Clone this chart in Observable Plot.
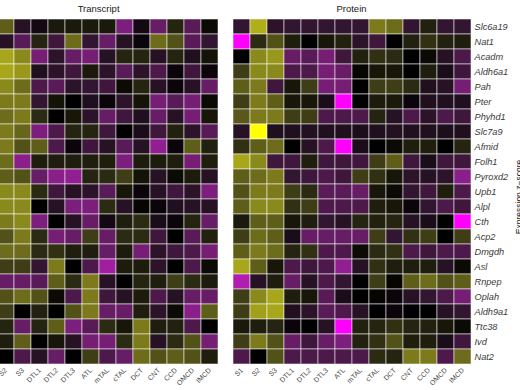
<!DOCTYPE html>
<html><head><meta charset="utf-8">
<script src="https://cdn.jsdelivr.net/npm/d3@7"></script>
<script src="https://cdn.jsdelivr.net/npm/@observablehq/plot@0.6"></script>
<style>
html,body{margin:0;padding:0;background:#fff;}
#wrap{position:relative;width:520px;height:390px;overflow:hidden;font-family:"Liberation Sans",Arial,sans-serif;}
#wrap svg{position:absolute;top:0;background:transparent;}
.ptitle{position:absolute;top:3px;font-size:9.5px;line-height:12px;color:#1a1a1a;transform:translateX(-50%);white-space:nowrap;}
#right [aria-label="y-axis tick label"] text{font-style:italic;}
#legtitle{position:absolute;left:519px;top:197px;font-size:8.5px;line-height:10px;color:#1a1a1a;white-space:nowrap;transform:translate(-50%,-50%) rotate(-90deg);}
</style></head>
<body><div id="wrap"></div>
<script>
const regions = ["S1","S2","S3","DTL1","DTL2","DTL3","ATL","mTAL","cTAL","DCT","CNT","CCD","OMCD","IMCD"];
const genes = ["Slc6a19","Nat1","Acadm","Aldh6a1","Pah","Pter","Phyhd1","Slc7a9","Afmid","Folh1","Pyroxd2","Upb1","Alpl","Cth","Acp2","Dmgdh","Asl","Rnpep","Oplah","Aldh9a1","Ttc38","Ivd","Nat2"];
const panelTitles = ["Transcript","Protein"];
const legendTitle = "Expression z\u2212score";

const transcriptZ = [
 [1.6, 1.4, -0.5, -0.2, 0.3, 0.3, 0.3, 0.3, -1.8, -0.2, -1.5, 0.5, -1.3, 0.1],
 [-0.3, -0.5, -1.3, 0.5, -0.9, 1.6, -0.7, -1.5, -0.5, -0.1, 1.6, 1.2, -1.3, -0.7],
 [2.2, 2.4, 2.0, -1.7, -0.6, -1.5, -1.7, -0.5, 0.5, 0.5, -0.5, 0.5, -0.4, 0.2],
 [2.3, 2.4, 2.2, -0.4, -0.6, -0.9, 0.3, -0.6, -1.3, -0.6, -1.1, -0.1, -0.9, -0.1],
 [2.1, 2.0, 1.6, -1.1, -1.3, -0.6, -0.7, -0.9, 0.1, 0.5, -0.5, -0.1, -0.5, -1.5],
 [1.7, 1.8, 1.8, -0.7, 0.2, 0, -0.4, -0.1, -0.6, 0.2, -1.7, -1.3, -1.7, 0.1],
 [1.7, 1.6, 1.8, 0.6, 0, 0.25, -0.6, -1.5, -0.9, -0.4, -1.5, -0.5, -1.7, 0.25],
 [1.9, 1.8, 1.5, -1.8, -1.1, 0.5, 0.5, -0.9, 0, -0.3, -0.9, 0.45, -0.6, -1.3],
 [1.6, 1.8, 1.2, 1.4, -1.1, -0.1, -0.9, -0.5, -1.3, -0.5, -2.1, -0.1, 1.4, 0.45],
 [1.5, 1.6, -2.0, 0.4, 0.4, 0.4, 0.4, 0.4, -1.8, 0.35, 0.35, 0.4, -1.7, 0.4],
 [1.3, 1.4, 1.2, -1.5, -2.0, -2.1, 0.5, 0.6, 0.9, 0.2, -0.5, 0.1, 0.35, -0.5],
 [2.0, 2.0, 2.0, 0.6, -0.9, -0.5, -0.6, -1.3, 0.25, -0.1, -0.5, -0.9, -0.6, -1.8],
 [2.1, 2.0, 2.0, 0, -0.5, -1.8, -1.8, 0.6, -0.5, 0.05, -0.1, -0.4, -0.5, -0.5],
 [1.9, 1.8, 2.0, -1.8, 0, -0.5, -1.5, -0.2, 0.4, 0.6, -0.3, -0.1, 0.5, -1.5],
 [1.4, 1.2, 1.8, 0.6, -1.7, -1.5, 0.9, -1.5, 0.6, 0.6, -0.9, 0, -1.3, 0.45],
 [1.5, 1.6, 1.6, 0.6, 0.7, 0.4, 0.4, -1.5, 0.35, -1.7, -0.6, -0.9, -1.1, -1.7],
 [1.0, 0.9, 0.9, -0.7, 1.8, 0, -1.1, -2.3, 0.35, 0.35, -0.6, 0, -1.1, 0.1],
 [-1.4, -1.5, -1.5, -1.3, 1.4, 0.6, 1.8, -0.5, 0, 0.5, 0.4, 0.9, 0.6, 0.35],
 [1.3, 1.2, 1.6, 1.2, 0.1, -1.1, 1.8, -0.9, -0.5, 0.35, -1.1, -0.5, -1.5, -1.5],
 [1.0, 0.9, 0, 0.45, 0, 1.2, 1.8, -1.5, -1.5, 0.4, -0.6, 0.1, -2.0, 1.4],
 [0.6, 0.5, -1.5, 0.5, 1.4, -1.8, -1.3, 0.6, 0.25, 1.8, 0.4, 0.45, -1.1, 0],
 [0.5, 0.4, 1.4, 0, 0.25, -0.5, -1.7, -1.7, 0.6, 1.8, -0.5, 0.6, 1.2, -1.7],
 [0.2, 0, -1.1, -0.5, -1.5, 0, 0.9, -1.1, -1.5, 1.6, 1.2, 1.4, 1.2, 0.4]
];

const proteinZ = [
 [-0.7, 2.5, -0.6, -0.7, -0.7, -0.7, -0.7, -0.7, 1.8, 1.6, -0.7, 0.45, -0.7, -0.7],
 [-3.5, 0.6, 1.2, 0.4, 0, 0.25, 0.45, -0.6, -0.9, 0, 0.45, 0.7, 0.45, 0.4],
 [0, 2.0, 2.2, -1.5, -1.3, -1.7, -0.9, 0.45, 0.7, 0.6, 0, 0.1, -0.5, -1.1],
 [0.9, 2.0, 2.0, -1.1, -1.1, -1.7, -1.5, 0.05, 0.25, 0.25, 0, 0.4, -0.3, -0.9],
 [1.4, 1.8, -0.9, 0.25, 0.9, -1.7, -1.7, 0, 0.9, 0.9, 0.6, -0.4, -0.5, -1.7],
 [0.9, 1.8, 1.4, 0.25, 0.25, -0.3, -3.5, 0, 0.35, 0.3, -0.1, -0.4, -0.4, -0.4],
 [1.3, 1.8, 1.8, 0.9, 0.9, -1.1, -1.1, -1.1, 0.5, -0.5, -1.1, -0.6, -1.1, -0.9],
 [-0.5, 3.5, -0.4, -0.4, -0.45, -0.4, -0.4, -0.35, -0.4, -0.45, -0.4, -0.4, -0.35, -0.4],
 [0.7, 1.4, 1.6, 0, -0.5, -1.1, -3.5, -0.3, 0, 0.1, 0.4, 0.4, 0, 0.5],
 [2.4, 2.0, -0.9, -0.9, 0.4, -0.9, -0.9, -0.9, 0.9, 1.4, -0.9, -0.3, -0.9, -0.9],
 [1.4, 1.6, 1.8, -0.7, -0.9, -1.1, -0.9, 0.9, 0.7, 0.25, -0.6, -0.5, -0.6, -2.0],
 [1.2, 1.8, 1.8, 0.9, 0.6, -1.3, -1.3, -1.5, 0.25, 0.1, -0.7, -0.9, 0.4, -1.1],
 [1.4, 2.0, 2.0, 0.7, 0.9, -1.1, -1.1, -1.1, 0.4, 0.25, -0.1, -0.7, -1.1, -0.9],
 [0.3, 1.4, 1.4, 0.25, 0.4, -0.7, -0.5, 0.5, 0.45, 0.5, -0.5, -0.3, 0, -3.5],
 [0.9, 1.6, 1.4, -0.3, -1.5, -1.5, -1.5, -1.5, 0.9, -0.7, 0.7, 0.9, 0, 0.9],
 [1.4, 1.8, 1.6, 0.5, 0.7, -1.1, -1.1, 0.1, 0.6, 0.7, -1.1, -0.9, -1.1, -1.1],
 [2.4, 1.4, 0.25, -1.1, -0.9, -1.1, -2.1, -0.5, 0.7, 0.4, 0.4, 0.4, -0.5, 0.1],
 [-2.5, -0.5, 0.4, -1.5, -0.5, -1.1, -0.7, 0, 0.9, 0.05, 1.4, 1.6, 1.2, 1.4],
 [0.9, 2.0, 2.4, 0.4, 0.25, -1.3, -0.3, 0, 0.05, -0.1, -0.5, -0.7, -1.1, -1.7],
 [0.9, 2.3, 2.4, -0.4, -0.6, -1.3, -1.1, -0.5, 0, -0.1, 0, 0, -0.5, -0.7],
 [0.3, 0.4, 0.5, -0.1, 0, -0.5, -3.5, 0.45, 0.5, 0.7, 0.5, 0.45, 0.25, 0.1],
 [0.9, 1.8, 1.2, -1.5, -0.9, -1.5, -1.8, 0.45, 0.7, 1.2, 0.4, 0.4, -0.3, -0.9],
 [-1.1, 0, 1.2, -1.1, -1.1, -1.1, -1.1, -1.1, 0.6, 0.5, 1.8, 1.8, -1.1, 1.6]
];

function toCells(m) {
  const out = [];
  genes.forEach((g, i) => regions.forEach((r, j) => out.push({gene: g, region: r, z: m[i][j]})));
  return out;
}

const colorOpts = {type: "linear", domain: [-3.5, 0, 3.5], range: ["#ff00ff", "#000000", "#ffff00"], interpolate: "lab", clamp: true};
const font = "'Liberation Sans', Arial, sans-serif";
const TOP = 17.3, BOT = 365.7;

function panel(matrix, opts) {
  return Plot.plot({
    width: opts.width, height: 390,
    marginTop: TOP, marginBottom: 390 - BOT, marginLeft: opts.marginLeft, marginRight: opts.marginRight,
    style: {background: "transparent", fontFamily: font, color: "#444"},
    x: {domain: regions, range: opts.xRange, padding: 0},
    y: {domain: genes, range: [TOP, BOT], padding: 0},
    color: colorOpts,
    marks: [
      Plot.cell(toCells(matrix), {x: "region", y: "gene", fill: "z", stroke: "white", strokeOpacity: 0.75, strokeWidth: 0.7}),
      Plot.axisX({anchor: "bottom", tickSize: 0, tickPadding: 3, tickRotate: -45, fontSize: 7, fill: "#444", label: null}),
      opts.yAxis ? Plot.axisY({anchor: "right", tickSize: 0, tickPadding: 2, fontSize: 9.2, fontStyle: "italic", fill: "#3a3a3a", label: null}) : Plot.axisY({ticks: [], label: null})
    ]
  });
}

const wrap = document.getElementById("wrap");
const left = panel(transcriptZ, {width: 226, marginLeft: 0, marginRight: 6, xRange: [-22.7, 220], yAxis: false});
left.style.left = "0px";
left.id = "left";
wrap.appendChild(left);

const right = panel(proteinZ, {width: 294, marginLeft: 5, marginRight: 48, xRange: [5, 246], yAxis: true});
right.style.left = "226px";
right.id = "right";
wrap.appendChild(right);

const t1 = document.createElement("div");
t1.className = "ptitle"; t1.style.left = "98.6px"; t1.textContent = panelTitles[0];
wrap.appendChild(t1);
const t2 = document.createElement("div");
t2.className = "ptitle"; t2.style.left = "351.5px"; t2.textContent = panelTitles[1];
wrap.appendChild(t2);
const lt = document.createElement("div");
lt.id = "legtitle"; lt.textContent = legendTitle;
wrap.appendChild(lt);
</script>
</body></html>
